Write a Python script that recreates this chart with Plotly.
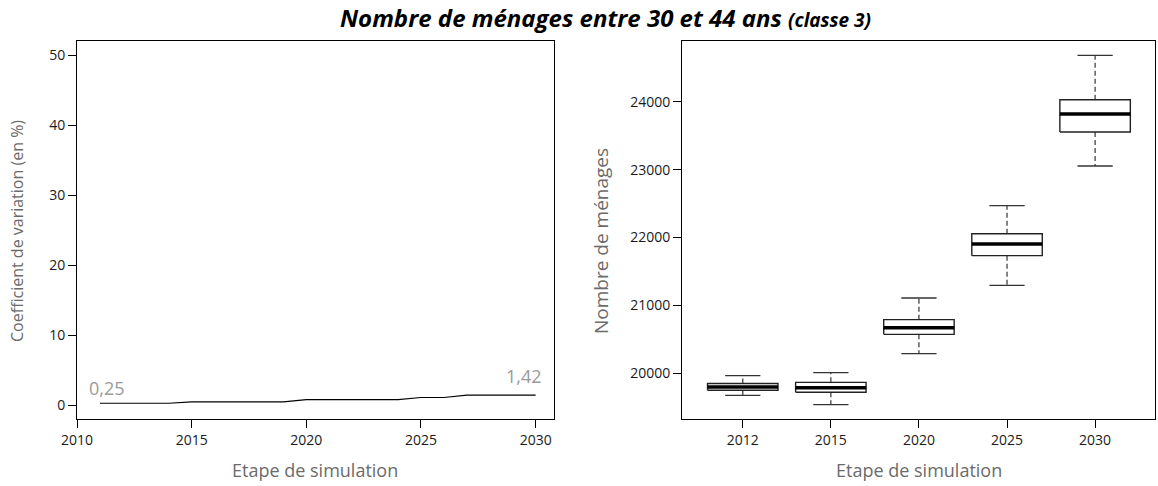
import plotly.graph_objects as go

# ---------------- data ----------------
# left panel: coefficient of variation (%) per simulation year
cv_years = [2011, 2012, 2013, 2014, 2015, 2016, 2017, 2018, 2019, 2020,
            2021, 2022, 2023, 2024, 2025, 2026, 2027, 2028, 2029, 2030]
cv_values = [0.25, 0.25, 0.25, 0.25, 0.45, 0.45, 0.45, 0.45, 0.45, 0.78,
             0.78, 0.78, 0.78, 0.78, 1.07, 1.07, 1.42, 1.42, 1.42, 1.42]
cv_first_label = "0,25"
cv_last_label = "1,42"

# right panel: boxplot statistics per step
steps = ["2012", "2015", "2020", "2025", "2030"]
whisk_low = [19676, 19538, 20290, 21296, 23053]
q1 = [19750, 19720, 20574, 21733, 23553]
median = [19800, 19786, 20672, 21904, 23818]
q3 = [19850, 19867, 20790, 22056, 24029]
whisk_high = [19966, 20009, 21109, 22469, 24683]

left_yticks = [0, 10, 20, 30, 40, 50]
left_xticks = [2010, 2015, 2020, 2025, 2030]
right_yticks = [20000, 21000, 22000, 23000, 24000]

title_main = "Nombre de ménages entre 30 et 44 ans"
title_sub = "(classe 3)"
xtitle = "Etape de simulation"
ytitle_left = "Coefficient de variation (en %)"
ytitle_right = "Nombre de ménages"

# ---------------- styles ----------------
W, H = 1158, 486
FONT = "Open Sans"
TICK_COLOR = "#1a1a1a"
TITLE_COLOR = "#6b6b6b"
LABEL_COLOR = "#9a9a9a"
BOX_W = 0.8
CAP_W = 0.4


def px_x(p):
    return p / W


def px_y(p):
    return 1 - p / H


fig = go.Figure()

# left line
fig.add_trace(go.Scatter(x=cv_years, y=cv_values, mode="lines",
                         line=dict(color="black", width=1.2),
                         xaxis="x", yaxis="y", showlegend=False,
                         hoverinfo="skip"))

# right boxplots drawn through scatter paths on a numeric axis
pos = list(range(1, len(steps) + 1))
bx, by, wx, wy, cx, cy, mx, my = [], [], [], [], [], [], [], []
for p, lo, a, m, b, hi in zip(pos, whisk_low, q1, median, q3, whisk_high):
    h = BOX_W / 2
    c = CAP_W / 2
    bx += [p - h, p + h, p + h, p - h, p - h, None]
    by += [a, a, b, b, a, None]
    wx += [p, p, None, p, p, None]
    wy += [b, hi, None, a, lo, None]
    cx += [p - c, p + c, None, p - c, p + c, None]
    cy += [hi, hi, None, lo, lo, None]
    mx += [p - h, p + h, None]
    my += [m, m, None]

fig.add_trace(go.Scatter(x=wx, y=wy, mode="lines", xaxis="x2", yaxis="y2",
                         line=dict(color="#333333", width=1.2, dash="5px,3px"),
                         showlegend=False, hoverinfo="skip"))
fig.add_trace(go.Scatter(x=cx, y=cy, mode="lines", xaxis="x2", yaxis="y2",
                         line=dict(color="#333333", width=1.3),
                         showlegend=False, hoverinfo="skip"))
fig.add_trace(go.Scatter(x=bx, y=by, mode="lines", xaxis="x2", yaxis="y2",
                         line=dict(color="#222222", width=1.4),
                         showlegend=False, hoverinfo="skip"))
fig.add_trace(go.Scatter(x=mx, y=my, mode="lines", xaxis="x2", yaxis="y2",
                         line=dict(color="black", width=3.5),
                         showlegend=False, hoverinfo="skip"))

axis_common = dict(showgrid=False, zeroline=False, showline=True,
                   linecolor="black", linewidth=1, mirror=True,
                   ticks="outside", ticklen=8, tickcolor="black", tickwidth=1,
                   automargin=False, tickformat="d",
                   tickfont=dict(family=FONT, size=14, color=TICK_COLOR))

fig.update_layout(
    template="none",
    width=W, height=H,
    margin=dict(l=0, r=0, t=0, b=0, pad=0),
    paper_bgcolor="white", plot_bgcolor="white",
    showlegend=False,
    xaxis=dict(domain=[px_x(77), px_x(554)], range=[2010, 2030.8],
               tickvals=left_xticks, anchor="y", **axis_common),
    yaxis=dict(domain=[px_y(419), px_y(41)], range=[-2, 52],
               tickvals=left_yticks, anchor="x", **axis_common),
    xaxis2=dict(domain=[px_x(682), px_x(1155)], range=[0.31, 5.68],
                tickvals=pos, ticktext=steps, anchor="y2", **axis_common),
    yaxis2=dict(domain=[px_y(419), px_y(41)], range=[19327, 24894],
                tickvals=right_yticks, anchor="x2", **axis_common),
)

ann = []
# main title
ann.append(dict(xref="paper", yref="paper", x=px_x(605), y=px_y(18),
                xanchor="center", yanchor="middle", showarrow=False,
                text=f"<b><i>{title_main} <span style='font-size:19px'>{title_sub}</span></i></b>",
                font=dict(family=FONT, size=24, color="black")))
# axis titles
ann.append(dict(xref="paper", yref="paper", x=px_x(315), y=px_y(470),
                xanchor="center", yanchor="middle", showarrow=False,
                text=xtitle, font=dict(family=FONT, size=18, color=TITLE_COLOR)))
ann.append(dict(xref="paper", yref="paper", x=px_x(919), y=px_y(470),
                xanchor="center", yanchor="middle", showarrow=False,
                text=xtitle, font=dict(family=FONT, size=18, color=TITLE_COLOR)))
ann.append(dict(xref="paper", yref="paper", x=px_x(17), y=px_y(231),
                xanchor="center", yanchor="middle", showarrow=False, textangle=-90,
                text=ytitle_left, font=dict(family=FONT, size=16, color=TITLE_COLOR)))
ann.append(dict(xref="paper", yref="paper", x=px_x(601), y=px_y(241),
                xanchor="center", yanchor="middle", showarrow=False, textangle=-90,
                text=ytitle_right, font=dict(family=FONT, size=19, color=TITLE_COLOR)))
# value labels on the line
ann.append(dict(xref="x", yref="y", x=cv_years[0], y=cv_values[0],
                xanchor="left", yanchor="bottom", xshift=-13, yshift=1,
                showarrow=False, text=cv_first_label,
                font=dict(family=FONT, size=18, color=LABEL_COLOR)))
ann.append(dict(xref="x", yref="y", x=cv_years[-1], y=cv_values[-1],
                xanchor="right", yanchor="bottom", xshift=8, yshift=5,
                showarrow=False, text=cv_last_label,
                font=dict(family=FONT, size=18, color=LABEL_COLOR)))
fig.update_layout(annotations=ann)

# remove the default 8px page margin so the figure fills the window exactly
fig.write_html("out.html", config={"displayModeBar": False},
               post_script="document.body.style.margin='0';")
